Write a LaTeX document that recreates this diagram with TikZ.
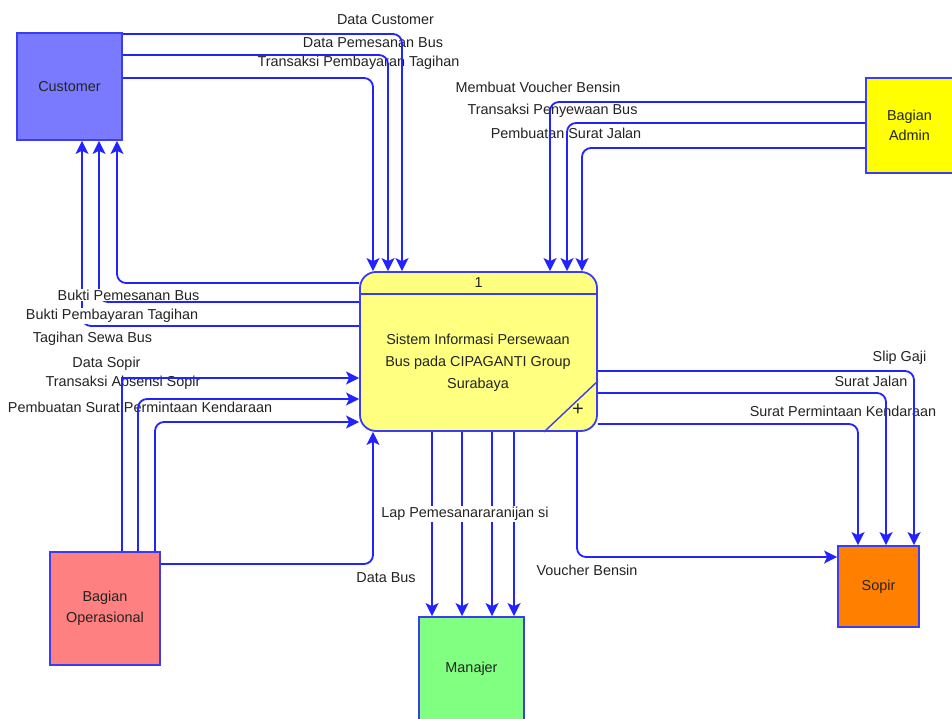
\documentclass[tikz,border=0pt]{standalone}
\usepackage{fontspec}
\setmainfont{Liberation Sans}
\usetikzlibrary{arrows.meta,calc}
\definecolor{flowblue}{RGB}{35,35,255}
\definecolor{edgeblue}{RGB}{60,60,240}
\definecolor{textgray}{RGB}{35,35,35}
\definecolor{custfill}{RGB}{122,122,255}
\definecolor{adminfill}{RGB}{255,255,0}
\definecolor{procfill}{RGB}{255,255,128}
\definecolor{opsfill}{RGB}{255,128,128}
\definecolor{manfill}{RGB}{128,255,128}
\definecolor{sopirfill}{RGB}{255,128,0}
\newcommand\lblfont{\fontsize{14.4}{17}\selectfont}
\begin{document}
\begin{tikzpicture}[x=1pt,y=-1pt,
  ent/.style={draw=edgeblue,line width=1.8pt,inner sep=0pt,align=center,
    font=\lblfont,text=textgray},
  flow/.style={draw=flowblue,line width=1.8pt,rounded corners=9pt,
    -{Stealth[length=13pt,width=13pt,inset=3pt]}},
  lab/.style={font=\lblfont,text=textgray,inner sep=1pt}]
\useasboundingbox (0,0) rectangle (952,719);
\fill[white] (0,0) rectangle (952,719);

% entities
\node[ent,fill=custfill,minimum width=105pt,minimum height=107pt] (cust) at (69.5,86.5) {Customer};
\node[ent,fill=adminfill,minimum width=87pt,minimum height=95pt,font=\fontsize{14.4}{20}\selectfont] (admin) at (909.5,125.5) {Bagian\\Admin};
\node[ent,fill=opsfill,minimum width=110pt,minimum height=113pt,font=\fontsize{14.4}{21}\selectfont] (ops) at (105,608.5) {Bagian\\Operasional};
\node[ent,fill=manfill,minimum width=105pt,minimum height=104pt] (man) at (471.5,669) {Manajer};
\node[ent,fill=sopirfill,minimum width=81pt,minimum height=81pt] (sopir) at (878.5,586.5) {Sopir};

% process
\node[draw=edgeblue,line width=1.8pt,fill=procfill,rounded corners=16pt,
  minimum width=237pt,minimum height=159pt,inner sep=0pt] (proc) at (478.5,351.5) {};
\draw[edgeblue,line width=1.4pt] (proc.west |- 0,294) -- (proc.east |- 0,294);
\draw[edgeblue,line width=1.4pt] (544,0 |- proc.south) -- (proc.east |- 0,381);
\node[lab] (pid) at (478.5,283) {1};
\node[lab,font=\fontsize{20}{22}\selectfont] (plus) at (578,410) {+};
\node[lab,align=center,font=\fontsize{14.4}{22}\selectfont] (ptext) at (478,363)
  {Sistem Informasi Persewaan\\Bus pada CIPAGANTI Group\\Surabaya};

% labels (under the connectors)
\node[lab] (l1) at (385.5,20) {Data Customer};
\node[lab] (l2) at (373,43) {Data Pemesanan Bus};
\node[lab] (l3) at (358.5,63) {Transaksi Pembayaran Tagihan};
\node[lab] (l4) at (538,87) {Membuat Voucher Bensin};
\node[lab] (l5) at (552.5,111) {Transaksi Penyewaan Bus};
\node[lab] (l6) at (566,133) {Pembuatan Surat Jalan};
\node[lab] (l10) at (92.5,339) {Tagihan Sewa Bus};
\node[lab] (l11) at (106.5,364) {Data Sopir};
\node[lab] (l12) at (123,383) {Transaksi Absensi Sopir};
\node[lab] (l13) at (140,407) {Pembuatan Surat Permintaan Kendaraan};
\node[lab] (l15) at (386,578) {Data Bus};
\node[lab] (l16) at (587,570) {Voucher Bensin};
\node[lab] (l17) at (899.5,358) {Slip Gaji};
\node[lab] (l18) at (871,381) {Surat Jalan};
\node[lab] (l19) at (843,411) {Surat Permintaan Kendaraan};

% Customer -> process
\draw[flow] (cust.east |- 0,34) -| (402,0 |- proc.north);
\draw[flow] (cust.east |- 0,55) -| (388,0 |- proc.north);
\draw[flow] (cust.east |- 0,78) -| (373,0 |- proc.north);
% process -> Customer
\draw[flow] (proc.west |- 0,283) -| (117,0 |- cust.south);
\draw[flow] (proc.west |- 0,302) -| (99,0 |- cust.south);
\draw[flow] (proc.west |- 0,326) -| (82,0 |- cust.south);
% Admin -> process
\draw[flow] (admin.west |- 0,102) -| (550,0 |- proc.north);
\draw[flow] (admin.west |- 0,123) -| (567,0 |- proc.north);
\draw[flow] (admin.west |- 0,148) -| (582,0 |- proc.north);
% Operasional -> process
\draw[flow,rounded corners=0pt] (122,0 |- ops.north) |- (proc.west |- 0,378);
\draw[flow] (138,0 |- ops.north) |- (proc.west |- 0,399);
\draw[flow] (155,0 |- ops.north) |- (proc.west |- 0,422);
\draw[flow] (ops.east |- 0,564) -| (373,0 |- proc.south);
% process -> Manajer
\draw[flow] (432,0 |- proc.south) -- (432,0 |- man.north);
\draw[flow] (462,0 |- proc.south) -- (462,0 |- man.north);
\draw[flow] (492,0 |- proc.south) -- (492,0 |- man.north);
\draw[flow] (514,0 |- proc.south) -- (514,0 |- man.north);
% process -> Sopir
\draw[flow] (proc.east |- 0,371) -| (914,0 |- sopir.north);
\draw[flow] (proc.east |- 0,393) -| (886,0 |- sopir.north);
\draw[flow] (proc.east |- 0,424) -| (858,0 |- sopir.north);
\draw[flow] (577,0 |- proc.south) |- (sopir.west |- 0,557);

% labels drawn over the connectors
\node[lab,fill=white] (l7) at (128.5,295) {Bukti Pemesanan Bus};
\node[lab,fill=white] (l8) at (112,316) {Bukti Pembayaran Tagihan};
\node[lab,fill=white] (l14) at (465,514) {Lap Pemesanararanijan si};
\end{tikzpicture}
\end{document}
